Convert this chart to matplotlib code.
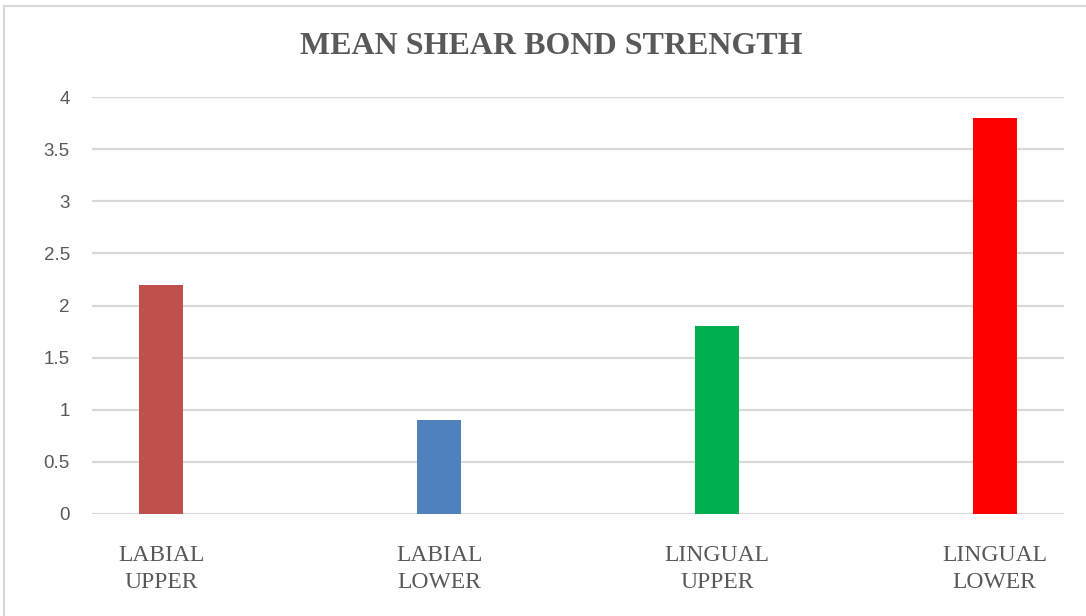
import matplotlib.pyplot as plt
from matplotlib.patches import Rectangle

groups = ["LABIAL\nUPPER", "LABIAL\nLOWER", "LINGUAL\nUPPER", "LINGUAL\nLOWER"]
strength = [2.2, 0.9, 1.8, 3.8]
colors = ["#C0504D", "#4F81BD", "#00B050", "#FF0000"]
yticks = [0, 0.5, 1, 1.5, 2, 2.5, 3, 3.5, 4]

fig = plt.figure(figsize=(10.86, 6.16), dpi=100)
# axes box in figure fractions (pixels: x 92..1064, y 97..514)
ax = fig.add_axes([92 / 1086, 1 - 514 / 616, 972 / 1086, 417 / 616])

x = list(range(len(groups)))
ax.bar(x, strength, width=0.158, color=colors, zorder=3)

ax.set_xlim(-0.25, 3.25)
ax.set_ylim(0, 4)
ax.set_yticks(yticks)
ax.set_yticklabels([f"{t:g}" for t in yticks], family="Liberation Sans",
                   fontsize=13.5, color="#595959")
ax.yaxis.grid(True, color="#D9D9D9", linewidth=1.6, zorder=0)
ax.tick_params(axis="y", length=0, pad=16)
ax.tick_params(axis="x", length=0, pad=22)
ax.set_xticks(x)
ax.set_xticklabels(groups, family="Liberation Serif", fontsize=17,
                   color="#595959", linespacing=1.4)
for s in ["top", "right", "left", "bottom"]:
    ax.spines[s].set_visible(False)

fig.text(551 / 1086, 1 - 46 / 616, "MEAN SHEAR BOND STRENGTH",
         family="Liberation Serif", fontweight="bold", fontsize=23,
         color="#595959", ha="center", va="center")

# light frame round the chart
fig.patches.append(Rectangle((4 / 1086, -0.01), 1.1, 1 - 6 / 616 + 0.01,
                             transform=fig.transFigure, fill=False,
                             edgecolor="#D9D9D9", linewidth=1.5))

fig.savefig("out.png", dpi=100)
